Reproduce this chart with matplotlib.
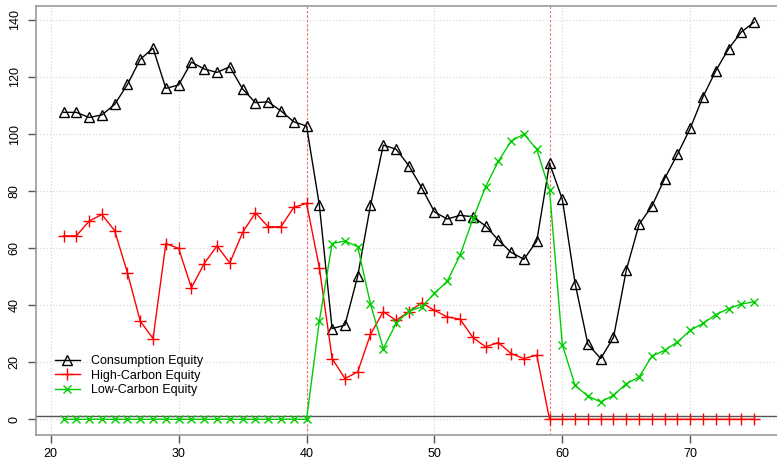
import matplotlib
matplotlib.use("Agg")
import matplotlib.pyplot as plt
import numpy as np

plt.rcParams['font.family'] = ['Liberation Sans', 'DejaVu Sans']

# time index
t = list(range(21, 76))

consumption = [107.6, 107.6, 105.8, 106.7, 110.4, 117.4, 126.2, 130.1, 116.0, 117.2,
               125.2, 122.8, 121.6, 123.6, 115.8, 111.0, 111.3, 108.1, 104.3, 102.8,
               75.2, 31.8, 33.0, 50.2, 75.0, 96.1, 94.7, 88.9, 81.2, 72.7,
               70.2, 71.5, 71.0, 67.8, 62.8, 58.5, 56.1, 62.5, 89.7, 77.1,
               47.6, 26.3, 21.3, 28.7, 52.3, 68.3, 74.7, 84.4, 92.9, 102.0,
               113.1, 122.2, 129.9, 135.8, 139.2]

high_carbon = [64.3, 64.3, 69.5, 71.8, 66.1, 51.3, 34.4, 28.3, 61.6, 59.9,
               46.1, 54.6, 60.8, 54.8, 65.5, 72.4, 67.5, 67.5, 74.3, 75.7,
               53.2, 21.3, 14.3, 16.6, 29.8, 37.7, 34.7, 37.7, 40.8, 38.2,
               35.9, 35.1, 28.7, 25.4, 26.9, 23.0, 21.3, 22.5, 0, 0,
               0, 0, 0, 0, 0, 0, 0, 0, 0, 0,
               0, 0, 0, 0, 0]

low_carbon = [0, 0, 0, 0, 0, 0, 0, 0, 0, 0,
              0, 0, 0, 0, 0, 0, 0, 0, 0, 0,
              34.4, 61.6, 62.5, 60.5, 40.4, 24.8, 33.6, 37.9, 39.4, 44.1,
              48.4, 57.5, 70.1, 81.5, 90.5, 97.5, 100.0, 94.6, 80.4, 26.1,
              11.9, 8.1, 6.1, 8.4, 12.5, 14.8, 22.1, 24.2, 27.1, 31.2,
              33.6, 36.7, 38.8, 40.4, 41.2]

breaks = [40, 59]

x_ticks = [20, 30, 40, 50, 60, 70]
y_ticks = [0, 20, 40, 60, 80, 100, 120, 140]

fig = plt.figure(figsize=(7.77, 4.61), dpi=100)
ax = fig.add_axes([0.0462, 0.056, 0.96, 0.9303])

green = '#00CD00'

# grid like R's grid()
for xv in x_ticks:
    ax.axvline(xv, color='#d3d3d3', lw=0.8, ls=(0, (1, 2)), zorder=0)
for yv in y_ticks:
    ax.axhline(yv, color='#d3d3d3', lw=0.8, ls=(0, (1, 2)), zorder=0)

ax.axhline(1, color='#555555', lw=1.0, zorder=1)
for b in breaks:
    ax.axvline(b, color='#ff6060', lw=0.8, ls=(0, (2, 2)), zorder=1)

ax.plot(t, consumption, color='black', lw=1, marker='^', ms=6.5, mfc='none',
        mec='black', mew=1, label='Consumption Equity', zorder=3)
ax.plot(t, high_carbon, color='red', lw=1, marker='+', ms=8, mew=1,
        label='High-Carbon Equity', zorder=3)
ax.plot(t, low_carbon, color=green, lw=1, marker='x', ms=5.5, mew=1,
        label='Low-Carbon Equity', zorder=3)

xmin, xmax = min(t), max(t)
xpad = 0.04 * (xmax - xmin)
ymax = max(consumption)
ypad = 0.04 * ymax
ax.set_xlim(xmin - xpad, xmax + xpad)
ax.set_ylim(-ypad, ymax + ypad)

ax.set_xticks(x_ticks)
ax.set_yticks(y_ticks)
ax.tick_params(axis='both', direction='out', length=6, width=1, color='#555555',
               labelsize=9, pad=3)
ax.tick_params(axis='y', labelrotation=90, pad=5)
for lbl in ax.get_yticklabels():
    lbl.set_va('center')

for s in ax.spines.values():
    s.set_color('#9a9a9a')
    s.set_linewidth(1.2)

ax.legend(loc='lower left', bbox_to_anchor=(0.005, 0.056), frameon=False,
          fontsize=9, handlelength=2.0, handletextpad=0.9, labelspacing=0.2,
          borderaxespad=0.8)

fig.savefig('out.png', dpi=100)
